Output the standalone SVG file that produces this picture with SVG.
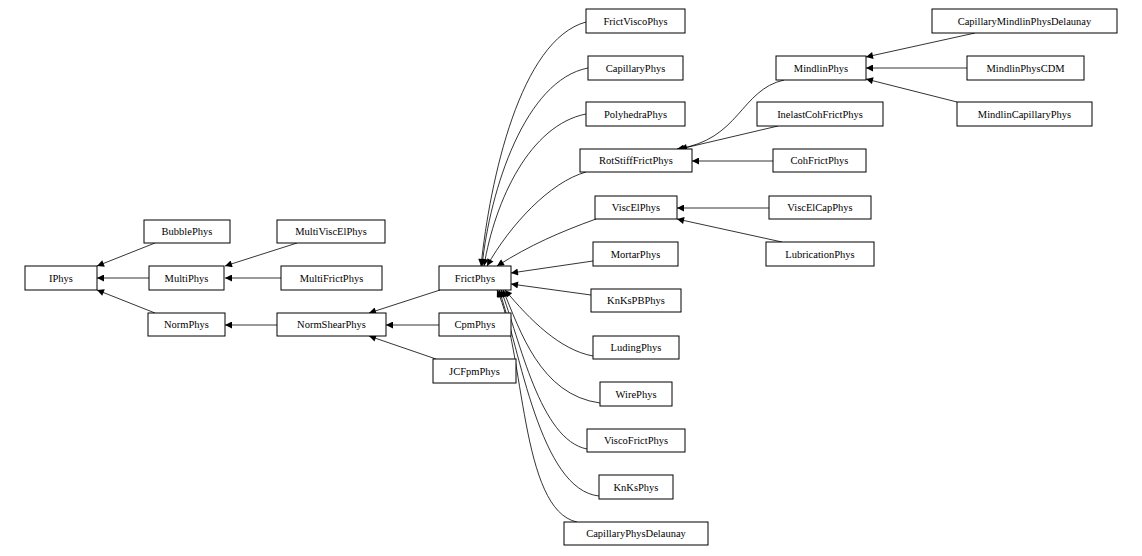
<svg xmlns="http://www.w3.org/2000/svg" width="1142" height="556" viewBox="0 0 1142 556">
<style>
.n rect{fill:#fff;stroke:#000;stroke-width:1}
.n text{font-family:"Liberation Serif",serif;font-size:10.5px;text-anchor:middle;fill:#000}
.e path{fill:none;stroke:#000;stroke-width:0.8;marker-end:url(#a)}
</style>
<defs><marker id="a" viewBox="0 0 10 10" refX="10" refY="5" markerWidth="9" markerHeight="7" markerUnits="userSpaceOnUse" orient="auto"><path d="M0,0L10,5L0,10z" fill="#000"/></marker></defs>
<rect width="1142" height="556" fill="#fff"/>
<g class="e">
<path d="M155,243L97,266"/>
<path d="M149,278L97,278"/>
<path d="M155,313L97,290"/>
<path d="M297,243L225,266"/>
<path d="M281,278L225,278"/>
<path d="M277,325L225,325"/>
<path d="M440,290L369,313"/>
<path d="M439,325L386,325"/>
<path d="M436,359L369,336"/>
<path d="M586,22C520,40 490,180 481,266"/>
<path d="M588,68C525,80 490,190 482,266"/>
<path d="M586,114C530,125 495,200 484,266"/>
<path d="M586,172C550,182 510,225 487,266"/>
<path d="M596,219C560,232 530,245 497,266"/>
<path d="M593,261L511,273"/>
<path d="M591,295L511,284"/>
<path d="M593,356C560,350 530,320 505,290"/>
<path d="M600,403C540,395 520,330 503,290"/>
<path d="M587,449C540,440 520,340 501,290"/>
<path d="M599,496C540,490 520,350 499,290"/>
<path d="M577,522C520,510 525,350 497,290"/>
<path d="M784,80C740,90 740,140 677,149"/>
<path d="M778,126L680,149"/>
<path d="M773,161L692,161"/>
<path d="M769,208L677,208"/>
<path d="M782,242L677,219"/>
<path d="M975,33L866,57"/>
<path d="M967,68L866,68"/>
<path d="M957,102L866,79"/>
</g>
<g class="n" id="IPhys"><rect x="25" y="266" width="72" height="24"/><text x="61" y="282">IPhys</text></g>
<g class="n" id="BubblePhys"><rect x="144" y="220" width="86" height="23"/><text x="187" y="235">BubblePhys</text></g>
<g class="n" id="MultiPhys"><rect x="149" y="266" width="75" height="24"/><text x="186.5" y="282">MultiPhys</text></g>
<g class="n" id="NormPhys"><rect x="148" y="313" width="77" height="23"/><text x="186.5" y="328">NormPhys</text></g>
<g class="n" id="MultiViscElPhys"><rect x="277" y="220" width="108" height="23"/><text x="331" y="235">MultiViscElPhys</text></g>
<g class="n" id="MultiFrictPhys"><rect x="281" y="266" width="101" height="24"/><text x="331.5" y="282">MultiFrictPhys</text></g>
<g class="n" id="NormShearPhys"><rect x="277" y="313" width="109" height="23"/><text x="331.5" y="328">NormShearPhys</text></g>
<g class="n" id="FrictPhys"><rect x="439" y="266" width="72" height="24"/><text x="475" y="282">FrictPhys</text></g>
<g class="n" id="CpmPhys"><rect x="439" y="313" width="72" height="23"/><text x="475" y="328">CpmPhys</text></g>
<g class="n" id="JCFpmPhys"><rect x="433" y="359" width="83" height="24"/><text x="474.5" y="375">JCFpmPhys</text></g>
<g class="n" id="FrictViscoPhys"><rect x="586" y="9" width="99" height="24"/><text x="635.5" y="25">FrictViscoPhys</text></g>
<g class="n" id="CapillaryPhys"><rect x="588" y="56" width="95" height="24"/><text x="635.5" y="72">CapillaryPhys</text></g>
<g class="n" id="PolyhedraPhys"><rect x="586" y="102" width="99" height="24"/><text x="635.5" y="118">PolyhedraPhys</text></g>
<g class="n" id="RotStiffFrictPhys"><rect x="580" y="149" width="112" height="23"/><text x="636" y="164">RotStiffFrictPhys</text></g>
<g class="n" id="ViscElPhys"><rect x="595" y="196" width="82" height="23"/><text x="636" y="211">ViscElPhys</text></g>
<g class="n" id="MortarPhys"><rect x="593" y="242" width="85" height="24"/><text x="635.5" y="258">MortarPhys</text></g>
<g class="n" id="KnKsPBPhys"><rect x="591" y="289" width="90" height="23"/><text x="636" y="304">KnKsPBPhys</text></g>
<g class="n" id="LudingPhys"><rect x="593" y="336" width="86" height="23"/><text x="636" y="351">LudingPhys</text></g>
<g class="n" id="WirePhys"><rect x="600" y="382" width="72" height="24"/><text x="636" y="398">WirePhys</text></g>
<g class="n" id="ViscoFrictPhys"><rect x="587" y="429" width="98" height="23"/><text x="636" y="444">ViscoFrictPhys</text></g>
<g class="n" id="KnKsPhys"><rect x="599" y="475" width="74" height="24"/><text x="636" y="491">KnKsPhys</text></g>
<g class="n" id="CapillaryPhysDelaunay"><rect x="564" y="522" width="144" height="23"/><text x="636" y="537">CapillaryPhysDelaunay</text></g>
<g class="n" id="MindlinPhys"><rect x="776" y="56" width="90" height="24"/><text x="821" y="72">MindlinPhys</text></g>
<g class="n" id="InelastCohFrictPhys"><rect x="757" y="102" width="126" height="24"/><text x="820" y="118">InelastCohFrictPhys</text></g>
<g class="n" id="CohFrictPhys"><rect x="773" y="149" width="93" height="23"/><text x="819.5" y="164">CohFrictPhys</text></g>
<g class="n" id="ViscElCapPhys"><rect x="769" y="196" width="102" height="23"/><text x="820" y="211">ViscElCapPhys</text></g>
<g class="n" id="LubricationPhys"><rect x="766" y="242" width="108" height="24"/><text x="820" y="258">LubricationPhys</text></g>
<g class="n" id="CapillaryMindlinPhysDelaunay"><rect x="932" y="9" width="185" height="24"/><text x="1024.5" y="25">CapillaryMindlinPhysDelaunay</text></g>
<g class="n" id="MindlinPhysCDM"><rect x="967" y="56" width="117" height="24"/><text x="1025.5" y="72">MindlinPhysCDM</text></g>
<g class="n" id="MindlinCapillaryPhys"><rect x="957" y="102" width="135" height="24"/><text x="1024.5" y="118">MindlinCapillaryPhys</text></g>
</svg>
